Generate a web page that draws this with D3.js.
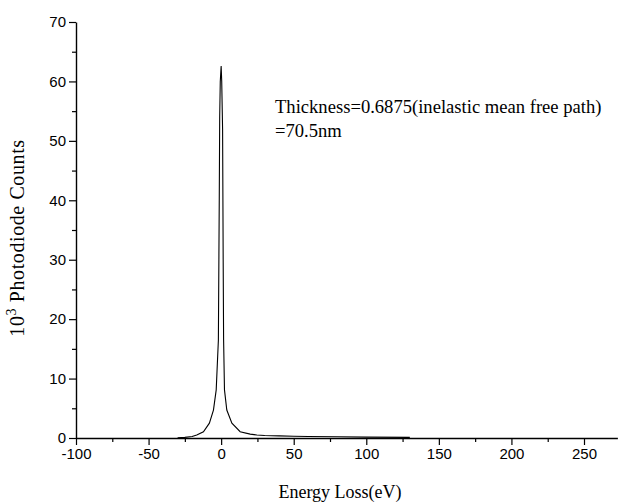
<!DOCTYPE html>
<html>
<head>
<meta charset="utf-8">
<script src="https://cdn.jsdelivr.net/npm/d3@7"></script>
<style>
  body { margin: 0; background: #fff; }
  .tick text { font-family: "Liberation Sans", Arial, sans-serif; font-size: 15px; fill: #000; }
  .lbl { font-family: "Liberation Serif", "Times New Roman", serif; font-size: 18px; fill: #000; }
</style>
</head>
<body>
<script>
// energy loss (eV) and counts (x10^3)
var energy = [-30, -25, -20, -16.8, -12.2, -8.1, -5.3, -3.4, -1.9, -1.3, -1.0, -0.6, 0, 0.4, 1.0, 1.4, 1.7, 2.3, 3.9, 7.4, 13.1, 20, 24.6, 30, 40, 50, 60, 80, 100, 130];
var counts = [0.05, 0.1, 0.25, 0.5, 1.06, 2.5, 4.7, 8.1, 16.5, 40, 54, 60, 62.6, 60, 52, 30, 16.5, 8.1, 4.7, 2.5, 1.06, 0.65, 0.5, 0.42, 0.36, 0.3, 0.25, 0.2, 0.15, 0.1];
var xTicks = [-100, -50, 0, 50, 100, 150, 200, 250];
var yTicks = [0, 10, 20, 30, 40, 50, 60, 70];

var svgWidth = 619;
var svgHeight = 504;

var svg = d3.select("body")
  .append("svg")
  .attr("width", svgWidth)
  .attr("height", svgHeight);

// 350 eV span over 508 px, axis runs on to 273 eV
var x0 = d3.scaleLinear()
  .domain([-100, 273])
  .range([76, 76 + 373 * 508 / 350]);

var yScale = d3.scaleLinear()
  .domain([0, 70])
  .range([438, 22]);

// minor ticks first
svg.append("g")
  .attr("transform", "translate(0,438)")
  .call(d3.axisBottom(x0).tickValues(d3.range(-75, 273, 50)).tickSize(4).tickFormat(""))
  .call(g => g.select(".domain").remove());
svg.append("g")
  .attr("transform", "translate(76,0)")
  .call(d3.axisLeft(yScale).tickValues(d3.range(5, 70, 10)).tickSize(4).tickFormat(""))
  .call(g => g.select(".domain").remove());

svg.append("g")
  .attr("transform", "translate(0,438)")
  .call(d3.axisBottom(x0).tickValues(xTicks).tickSize(7).tickSizeOuter(0).tickPadding(3)
    .tickFormat(d => String(d)));
svg.append("g")
  .attr("transform", "translate(76,0)")
  .call(d3.axisLeft(yScale).tickValues(yTicks).tickSize(7).tickSizeOuter(0).tickPadding(3));

svg.selectAll(".domain").attr("stroke-width", 1.4);
svg.selectAll(".tick line").attr("stroke-width", 1.2);

var data = energy.map((e, i) => ({ e: e, c: counts[i] }));
var line = d3.line()
  .x(d => x0(d.e))
  .y(d => yScale(d.c));

svg.append("path")
  .datum(data)
  .attr("d", line)
  .attr("fill", "none")
  .attr("stroke", "#000")
  .attr("stroke-width", 1.1);

svg.append("text")
  .attr("class", "lbl")
  .attr("x", 340)
  .attr("y", 498)
  .style("text-anchor", "middle")
  .text("Energy Loss(eV)");

var yl = svg.append("text")
  .attr("class", "lbl")
  .attr("transform", "translate(24,238) rotate(-90)")
  .style("text-anchor", "middle")
  .style("font-size", "20px")
  .style("letter-spacing", "0.6px");
yl.append("tspan").text("10");
yl.append("tspan").attr("dy", -8).style("font-size", "14px").text("3");
yl.append("tspan").attr("dy", 8).text(" Photodiode Counts");

svg.append("text")
  .attr("class", "lbl")
  .attr("x", 275)
  .attr("y", 113)
  .style("font-size", "18.6px")
  .text("Thickness=0.6875(inelastic mean free path)");
svg.append("text")
  .attr("class", "lbl")
  .attr("x", 275)
  .attr("y", 137)
  .style("font-size", "18.6px")
  .text("=70.5nm");
</script>
</body>
</html>
